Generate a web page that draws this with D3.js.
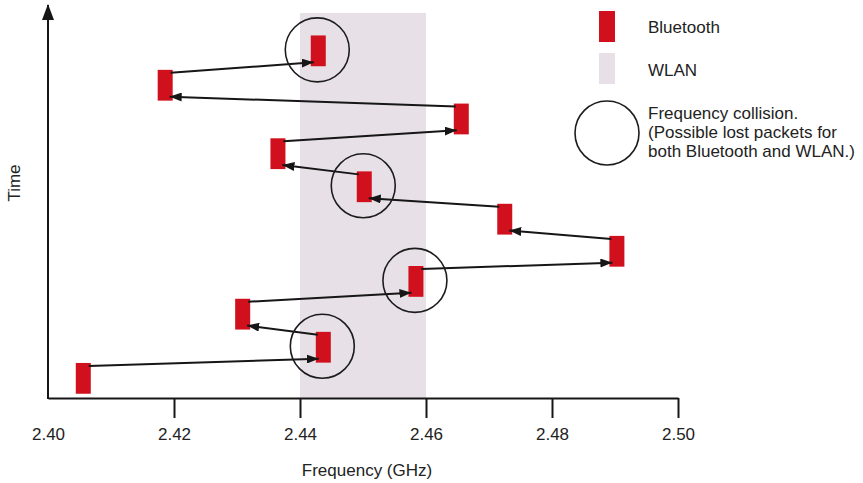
<!DOCTYPE html>
<meta charset="utf-8">
<style>
  body { margin: 0; background: #fff; }
  text { font-family: "Liberation Sans", Arial, sans-serif; font-size: 17px; fill: #222; }
</style>
<body>
<script src="https://d3js.org/d3.v7.min.js"></script>
<script>
// hop sequence (time slot, frequency in GHz)
var hopTime = [1.0, 1.95, 2.96, 3.96, 4.88, 5.86, 6.85, 7.86, 8.92, 9.95, 11.0];
var hopFreq = [2.4056, 2.4437, 2.4309, 2.4584, 2.4903, 2.4725, 2.4502, 2.4365, 2.4656, 2.4186, 2.4429];
// hops that land inside the WLAN channel -> collision circles
var collisions = [1, 3, 6, 10];
var wlanBand = [2.44, 2.46];
var freqTicks = [2.40, 2.42, 2.44, 2.46, 2.48, 2.50];
var legendLabels = ["Bluetooth", "WLAN"];
var collisionText = ["Frequency collision.", "(Possible lost packets for", "both Bluetooth and WLAN.)"];

var width = 863,
    height = 483;

var red = "#d0101c",
    wlanColor = "#e7e1e7",
    ink = "#161616";

var svg = d3.select("body").append("svg")
    .attr("width", width)
    .attr("height", height);

var x = d3.scaleLinear()
    .domain([2.40, 2.50])
    .range([48, 678]);

var y = d3.scaleLinear()
    .domain([0.4, 12.4])
    .range([398, 5]);

var defs = svg.append("defs");
defs.append("marker")
    .attr("id", "head")
    .attr("markerUnits", "userSpaceOnUse")
    .attr("viewBox", "0 0 12 9")
    .attr("markerWidth", 12)
    .attr("markerHeight", 9)
    .attr("refX", 12)
    .attr("refY", 4.5)
    .attr("orient", "auto")
  .append("path")
    .attr("d", "M0,0L12,4.5L0,9Z")
    .attr("fill", ink);

defs.append("marker")
    .attr("id", "axishead")
    .attr("markerUnits", "userSpaceOnUse")
    .attr("viewBox", "0 0 16 12")
    .attr("markerWidth", 16)
    .attr("markerHeight", 12)
    .attr("refX", 15)
    .attr("refY", 6)
    .attr("orient", "auto")
  .append("path")
    .attr("d", "M0,0L16,6L0,12Z")
    .attr("fill", ink);

// WLAN channel
svg.append("rect")
    .attr("x", x(wlanBand[0]))
    .attr("y", 13)
    .attr("width", x(wlanBand[1]) - x(wlanBand[0]))
    .attr("height", y.range()[0] - 13)
    .attr("fill", wlanColor);

// x axis
var xAxis = d3.axisBottom(x)
    .tickValues(freqTicks)
    .tickSize(20)
    .tickSizeOuter(0)
    .tickPadding(10)
    .tickFormat(d3.format(".2f"));

var gx = svg.append("g")
    .attr("transform", "translate(0," + y.range()[0] + ")")
    .call(xAxis);
gx.select(".domain").attr("stroke", ink).attr("stroke-width", 2);
gx.selectAll(".tick line").attr("stroke", ink).attr("stroke-width", 2)
    .attr("display", function(d) { return d === 2.40 ? "none" : null; });
gx.selectAll(".tick text")
    .attr("font-family", null)
    .attr("font-size", null)
    .style("font-size", "17px")
    .attr("fill", null);

// y axis (time, no ticks)
svg.append("line")
    .attr("x1", x.range()[0]).attr("x2", x.range()[0])
    .attr("y1", y.range()[0] + 1).attr("y2", y.range()[1])
    .attr("stroke", ink)
    .attr("stroke-width", 2)
    .attr("marker-end", "url(#axishead)");

svg.append("text")
    .attr("transform", "translate(20,183)rotate(-90)")
    .attr("text-anchor", "middle")
    .text("Time");

svg.append("text")
    .attr("x", 367)
    .attr("y", 476)
    .attr("text-anchor", "middle")
    .text("Frequency (GHz)");

// bluetooth hops
var bw = 15,
    half = 0.47;

var hops = hopTime.map(function(t, i) { return { t: t, f: hopFreq[i] }; });

svg.append("g").selectAll("rect")
    .data(hops)
    .enter().append("rect")
    .attr("x", function(d) { return x(d.f) - bw / 2; })
    .attr("y", function(d) { return y(d.t + half); })
    .attr("width", bw)
    .attr("height", function(d) { return y(d.t - half) - y(d.t + half); })
    .attr("fill", red);

// hop arrows
var links = d3.pairs(hops);
svg.append("g").selectAll("line")
    .data(links)
    .enter().append("line")
    .attr("x1", function(d) { var s = Math.sign(d[1].f - d[0].f); return x(d[0].f) + s * (bw / 2 - 2); })
    .attr("y1", function(d) { return y(d[0].t + half) + 3; })
    .attr("x2", function(d) { var s = Math.sign(d[1].f - d[0].f); return x(d[1].f) - s * (bw / 2 - 3); })
    .attr("y2", function(d) { return y(d[1].t - half) - 4; })
    .attr("stroke", ink)
    .attr("stroke-width", 2)
    .attr("marker-end", "url(#head)");

// collision circles
svg.append("g").selectAll("circle")
    .data(collisions)
    .enter().append("circle")
    .attr("cx", function(i) { return x(hops[i].f) - 1; })
    .attr("cy", function(i) { return y(hops[i].t) - 1; })
    .attr("r", 32)
    .attr("fill", "none")
    .attr("stroke", "#1c1c1c")
    .attr("stroke-width", 1.6);

// legend
var legend = svg.append("g").attr("transform", "translate(599,0)");
legend.append("rect")
    .attr("x", 0).attr("y", 11)
    .attr("width", 16).attr("height", 31)
    .attr("fill", red);
legend.append("rect")
    .attr("x", 0).attr("y", 53)
    .attr("width", 16).attr("height", 31)
    .attr("fill", wlanColor);
legend.append("circle")
    .attr("cx", 8).attr("cy", 133)
    .attr("r", 32)
    .attr("fill", "none")
    .attr("stroke", "#1c1c1c")
    .attr("stroke-width", 1.6);

legend.selectAll("text.key")
    .data(legendLabels)
    .enter().append("text")
    .attr("class", "key")
    .attr("x", 49)
    .attr("y", function(d, i) { return 33 + i * 43; })
    .text(function(d) { return d; });

legend.selectAll("text.note")
    .data(collisionText)
    .enter().append("text")
    .attr("class", "note")
    .attr("x", 49)
    .attr("y", function(d, i) { return 119 + i * 19; })
    .text(function(d) { return d; });
</script>
</body>
</html>
